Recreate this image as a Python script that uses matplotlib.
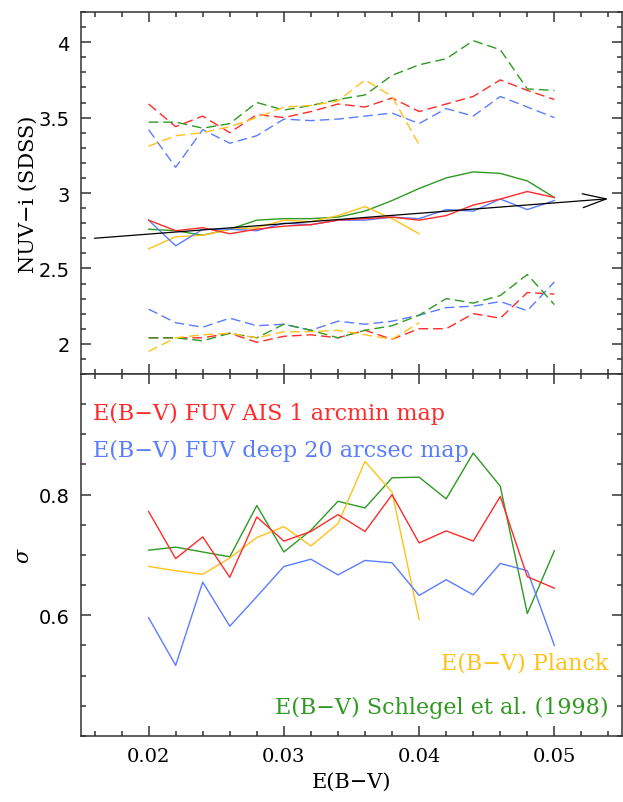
# nuv_i_vs_ebv.py

import matplotlib
matplotlib.use("Agg")
import matplotlib.pyplot as plt
from matplotlib.ticker import MultipleLocator

# E(B-V) bins
ebv = [0.020, 0.022, 0.024, 0.026, 0.028, 0.030, 0.032, 0.034,
       0.036, 0.038, 0.040, 0.042, 0.044, 0.046, 0.048, 0.050]
ebv_planck = ebv[:11]

# NUV-i median (solid) for each map
med_ais = [2.82, 2.75, 2.77, 2.73, 2.76, 2.78, 2.79, 2.82,
           2.83, 2.84, 2.82, 2.85, 2.92, 2.96, 3.01, 2.97]
med_deep = [2.82, 2.65, 2.76, 2.76, 2.75, 2.80, 2.79, 2.82,
            2.82, 2.84, 2.83, 2.89, 2.88, 2.96, 2.89, 2.95]
med_sfd = [2.76, 2.75, 2.72, 2.76, 2.82, 2.83, 2.83, 2.84,
           2.88, 2.95, 3.03, 3.10, 3.14, 3.13, 3.08, 2.97]
med_planck = [2.63, 2.71, 2.72, 2.76, 2.77, 2.82, 2.81, 2.85,
              2.91, 2.83, 2.73]

# upper envelopes (dashed)
hi_ais = [3.59, 3.44, 3.51, 3.40, 3.52, 3.50, 3.54, 3.59,
          3.57, 3.63, 3.54, 3.59, 3.64, 3.75, 3.68, 3.62]
hi_deep = [3.42, 3.17, 3.42, 3.33, 3.38, 3.49, 3.48, 3.49,
           3.51, 3.53, 3.46, 3.56, 3.51, 3.64, 3.57, 3.50]
hi_sfd = [3.47, 3.47, 3.43, 3.46, 3.60, 3.55, 3.58, 3.62,
          3.65, 3.78, 3.85, 3.89, 4.01, 3.95, 3.69, 3.68]
hi_planck = [3.31, 3.38, 3.40, 3.44, 3.50, 3.57, 3.58, 3.61,
             3.75, 3.64, 3.32]

# lower envelopes (dashed)
lo_ais = [2.04, 2.04, 2.04, 2.07, 2.01, 2.05, 2.06, 2.04,
          2.09, 2.03, 2.10, 2.10, 2.20, 2.17, 2.34, 2.33]
lo_deep = [2.23, 2.14, 2.11, 2.17, 2.12, 2.13, 2.09, 2.15,
           2.13, 2.15, 2.19, 2.24, 2.25, 2.28, 2.22, 2.41]
lo_sfd = [2.04, 2.04, 2.02, 2.07, 2.04, 2.13, 2.09, 2.04,
          2.09, 2.12, 2.19, 2.30, 2.27, 2.32, 2.46, 2.26]
lo_planck = [1.95, 2.04, 2.06, 2.07, 2.04, 2.08, 2.08, 2.09,
             2.06, 2.03, 2.14]

# dispersion
sig_ais = [0.772, 0.694, 0.730, 0.663, 0.763, 0.723, 0.739, 0.767,
           0.739, 0.800, 0.720, 0.740, 0.723, 0.797, 0.664, 0.645]
sig_deep = [0.596, 0.517, 0.655, 0.582, 0.631, 0.681, 0.693, 0.667,
            0.691, 0.687, 0.633, 0.659, 0.634, 0.686, 0.674, 0.550]
sig_sfd = [0.708, 0.713, 0.705, 0.697, 0.782, 0.705, 0.741, 0.789,
           0.778, 0.828, 0.829, 0.793, 0.869, 0.814, 0.603, 0.707]
sig_planck = [0.681, 0.674, 0.668, 0.695, 0.729, 0.747, 0.715, 0.752,
              0.855, 0.804, 0.593]

# reddening vector
arrow_start = (0.016, 2.70)
arrow_end = (0.054, 2.962)

RED = "#ff2b2b"
BLUE = "#5a7dff"
GREEN = "#2f9a22"
YELLOW = "#ffc21a"
FRAME = "#333333"

plt.rcParams["font.family"] = "DejaVu Serif"
plt.rcParams["mathtext.fontset"] = "dejavuserif"


def style_axis(ax):
    for sp in ax.spines.values():
        sp.set_linewidth(1.1)
        sp.set_color(FRAME)
    ax.tick_params(which="both", direction="in", top=True, right=True,
                   color=FRAME, width=1.1)
    ax.tick_params(which="major", length=7.2, labelsize=14, pad=8)
    ax.tick_params(which="minor", length=3.6)
    ax.set_xlim(0.015, 0.055)
    ax.xaxis.set_major_locator(MultipleLocator(0.01))
    ax.xaxis.set_minor_locator(MultipleLocator(0.002))
    for lab in ax.get_yticklabels():
        lab.set_family("DejaVu Sans")


fig = plt.figure(figsize=(6.23, 8.03), dpi=100)
ax1 = fig.add_axes([0.130, 0.533, 0.8684, 0.4508])
ax2 = fig.add_axes([0.130, 0.0822, 0.8684, 0.4508])

dash = dict(lw=1.0, dashes=(7, 3.5))

# top panel
for y, c in [(hi_ais, RED), (hi_deep, BLUE), (hi_sfd, GREEN)]:
    ax1.plot(ebv, y, color=c, **dash)
ax1.plot(ebv_planck, hi_planck, color=YELLOW, **dash)
for y, c in [(lo_ais, RED), (lo_deep, BLUE), (lo_sfd, GREEN)]:
    ax1.plot(ebv, y, color=c, **dash)
ax1.plot(ebv_planck, lo_planck, color=YELLOW, **dash)

ax1.plot(ebv, med_sfd, color=GREEN, lw=1.0)
ax1.plot(ebv_planck, med_planck, color=YELLOW, lw=1.0)
ax1.plot(ebv, med_deep, color=BLUE, lw=1.0)
ax1.plot(ebv, med_ais, color=RED, lw=1.0)

ax1.annotate("", xy=arrow_end, xytext=arrow_start,
             arrowprops=dict(arrowstyle="->,head_length=1.7,head_width=0.5",
                             color="black", lw=0.9, shrinkA=0, shrinkB=0))

ax1.set_ylim(1.8, 4.2)
ax1.yaxis.set_minor_locator(MultipleLocator(0.1))
ax1.set_yticks([2, 2.5, 3, 3.5, 4])
ax1.set_yticklabels(["2", "2.5", "3", "3.5", "4"])
style_axis(ax1)
ax1.tick_params(labelbottom=False)
ax1.set_ylabel("NUV\u2212i (SDSS)", fontsize=15)
ax1.yaxis.set_label_coords(-0.08, 0.5)

# bottom panel
ax2.plot(ebv, sig_sfd, color=GREEN, lw=1.0)
ax2.plot(ebv_planck, sig_planck, color=YELLOW, lw=1.0)
ax2.plot(ebv, sig_deep, color=BLUE, lw=1.0)
ax2.plot(ebv, sig_ais, color=RED, lw=1.0)

ax2.set_ylim(0.4, 1.0)
ax2.set_yticks([0.6, 0.8])
ax2.set_yticklabels(["0.6", "0.8"])
ax2.yaxis.set_minor_locator(MultipleLocator(0.05))
style_axis(ax2)
ax2.set_xticklabels(["", "0.02", "0.03", "0.04", "0.05", ""][:len(ax2.get_xticks())])
ax2.set_ylabel("$\\sigma$", fontsize=15)
ax2.yaxis.set_label_coords(-0.089, 0.5)
ax2.set_xlabel("E(B\u2212V)", fontsize=15, labelpad=5)

ax2.text(0.0216, 0.893, "E(B\u2212V) FUV AIS 1 arcmin map", color=RED,
         fontsize=16, transform=ax2.transAxes, ha="left", va="center")
ax2.text(0.0216, 0.790, "E(B\u2212V) FUV deep 20 arcsec map", color=BLUE,
         fontsize=16, transform=ax2.transAxes, ha="left", va="center")
ax2.text(0.975, 0.2017, "E(B\u2212V) Planck", color=YELLOW,
         fontsize=16, transform=ax2.transAxes, ha="right", va="center")
ax2.text(0.975, 0.081, "E(B\u2212V) Schlegel et al. (1998)", color=GREEN,
         fontsize=16, transform=ax2.transAxes, ha="right", va="center")

fig.savefig("out.png", dpi=100)
